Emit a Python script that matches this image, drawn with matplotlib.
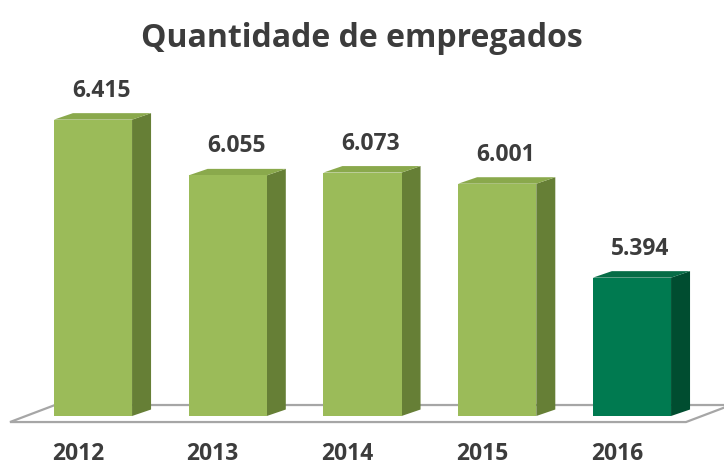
import matplotlib.pyplot as plt
from matplotlib.patches import Polygon

plt.rcParams['font.family'] = ['Open Sans', 'DejaVu Sans']

# dados
anos = ['2012', '2013', '2014', '2015', '2016']
empregados = [6415, 6055, 6073, 6001, 5394]
cores_frente = ['#9BBB59', '#9BBB59', '#9BBB59', '#9BBB59', '#007A50']
cores_lado = ['#667F36', '#667F36', '#667F36', '#667F36', '#004D30']
cores_topo = ['#8AA94C', '#8AA94C', '#8AA94C', '#8AA94C', '#066C46']

base = 4.5
largura = 0.58
prof_x, prof_y = 19, 6.5  # profundidade 3D em pixels
texto_cor = '#3C3C3C'

fig = plt.figure(figsize=(7.24, 4.65), dpi=100)
ax = fig.add_axes([0, 0, 1, 1])
ax.set_xlim(-0.690, 4.683)
ax.set_ylim(4.1834, 7.1882)
ax.axis('off')


def desloca(x, y, dx, dy):
    px, py = ax.transData.transform((x, y))
    return ax.transData.inverted().transform((px + dx, py + dy))


# piso
piso = [(-0.616, 4.461), (4.401, 4.461), (4.735, 4.571), (-0.282, 4.571)]
ax.add_patch(Polygon(piso, closed=True, facecolor='white', edgecolor='#A6A6A6',
                     linewidth=1.6, zorder=1))

valores = [v / 1000 for v in empregados]
barras = ax.bar(range(len(anos)), [v - base for v in valores], bottom=base,
                width=largura, color=cores_frente, zorder=3)

for i, (b, v) in enumerate(zip(barras, valores)):
    x0 = b.get_x()
    x1 = x0 + b.get_width()
    lado = [(x1, base), (x1, v), tuple(desloca(x1, v, prof_x, prof_y)),
            tuple(desloca(x1, base, prof_x, prof_y))]
    ax.add_patch(Polygon(lado, closed=True, facecolor=cores_lado[i],
                         edgecolor='none', zorder=2))
    topo = [(x0, v), (x1, v), tuple(desloca(x1, v, prof_x, prof_y)),
            tuple(desloca(x0, v, prof_x, prof_y))]
    ax.add_patch(Polygon(topo, closed=True, facecolor=cores_topo[i],
                         edgecolor='none', zorder=2))
    ax.annotate(f'{empregados[i]:,}'.replace(',', '.'), xy=(i, v),
                xytext=(6, 16.5), textcoords='offset points', ha='center',
                va='baseline', fontsize=16.5, fontweight='bold', color=texto_cor)
    ax.annotate(anos[i], xy=(i, base), xytext=(-10.8, -31.5),
                textcoords='offset points', ha='center', va='baseline',
                fontsize=16.5, fontweight='bold', color=texto_cor)

fig.text(0.5, 1 - 47 / 465, 'Quantidade de empregados', ha='center',
         va='baseline', fontsize=23, fontweight='bold', color=texto_cor)

fig.savefig('out.png', dpi=100)
